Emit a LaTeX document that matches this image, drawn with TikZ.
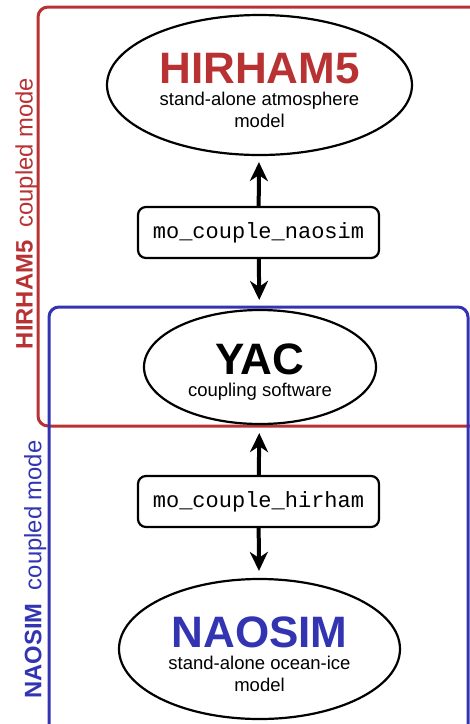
\documentclass[tikz,border=0pt]{standalone}
\usepackage{fontspec}
\setmainfont{Liberation Sans}
\setmonofont{Liberation Mono}
\usepackage{xcolor}
\usepackage{tikz}
\usetikzlibrary{arrows.meta, shapes.geometric}

\definecolor{HirRed}{RGB}{184,50,52}
\definecolor{NaoBlue}{RGB}{50,52,178}

% title line of a model, with a strut that centres the block
\newcommand{\modeltitle}[1]{{\fontsize{44}{44}\selectfont\bfseries\rule{0pt}{41pt}#1}}

\begin{document}
\begin{tikzpicture}[x=1pt, y=-1pt,
  model/.style={ellipse, draw=black, line width=2.2pt, fill=white,
    inner sep=0pt, align=center, font=\fontsize{18.5}{21.5}\selectfont},
  %
  routine/.style={rectangle, rounded corners=8pt, draw=black, line width=2.2pt,
    fill=white, minimum width=241pt, minimum height=51pt,
    font=\fontsize{22}{22}\selectfont\ttfamily},
  %
  frame/.style={rounded corners=10pt, line width=3pt},
  %
  modelabel/.style={rotate=90, anchor=base, font=\fontsize{23.8}{23.8}\selectfont},
  %
  link/.style={-{Stealth[length=19pt, width=18pt, inset=6pt]}, line width=4pt}
  ]

  \useasboundingbox (0,0) rectangle (470,724);

  \begin{scope}
    % coupled mode frames
    \draw [frame, HirRed] (38,7) rectangle (495,426);
    \draw [frame, NaoBlue] (49,307) rectangle (468,745);
    \node [modelabel, text=HirRed] (hirlabel) at (32.5,213.5)
      {\textbf{HIRHAM5}\ \ coupled mode};
    \node [modelabel, text=NaoBlue] (naolabel) at (41.5,569.5)
      {\textbf{NAOSIM}\ \ coupled mode};
  \end{scope}

  \begin{scope}
    %%%%%%%%%%%%%%%%%%%%%%%%%%%%%%%
    \node [model, minimum width=305pt, minimum height=140pt] (hirham) at (259.5,85)
      {\modeltitle{\textcolor{HirRed}{HIRHAM5}}\\[1pt]
       stand-alone atmosphere\\model};
    \node [routine] (cplnaosim) at (258.5,232.5) {mo\_couple\_naosim};
    %%%%%%%%%%%%%%%%%%%%%%%%%%%%%%%
    \node [model, minimum width=232pt, minimum height=114pt] (yac) at (260,367)
      {\modeltitle{YAC}\\[1pt]
       coupling software};
    \node [routine] (cplhirham) at (258.5,501.5) {mo\_couple\_hirham};
    %%%%%%%%%%%%%%%%%%%%%%%%%%%%%%%
    \node [model, minimum width=281pt, minimum height=140pt] (naosim) at (259.5,649)
      {\modeltitle{\textcolor{NaoBlue}{NAOSIM}}\\[1pt]
       stand-alone ocean-ice\\model};
  \end{scope}

  \begin{scope}
    \draw [link, shorten >=6pt] (cplnaosim) -- (hirham);
    \draw [link, shorten >=9pt] (cplnaosim) -- (yac);
    \draw [link, shorten >=8pt] (cplhirham) -- (yac);
    \draw [link, shorten >=7pt] (cplhirham) -- (naosim);
  \end{scope}

\end{tikzpicture}
\end{document}
